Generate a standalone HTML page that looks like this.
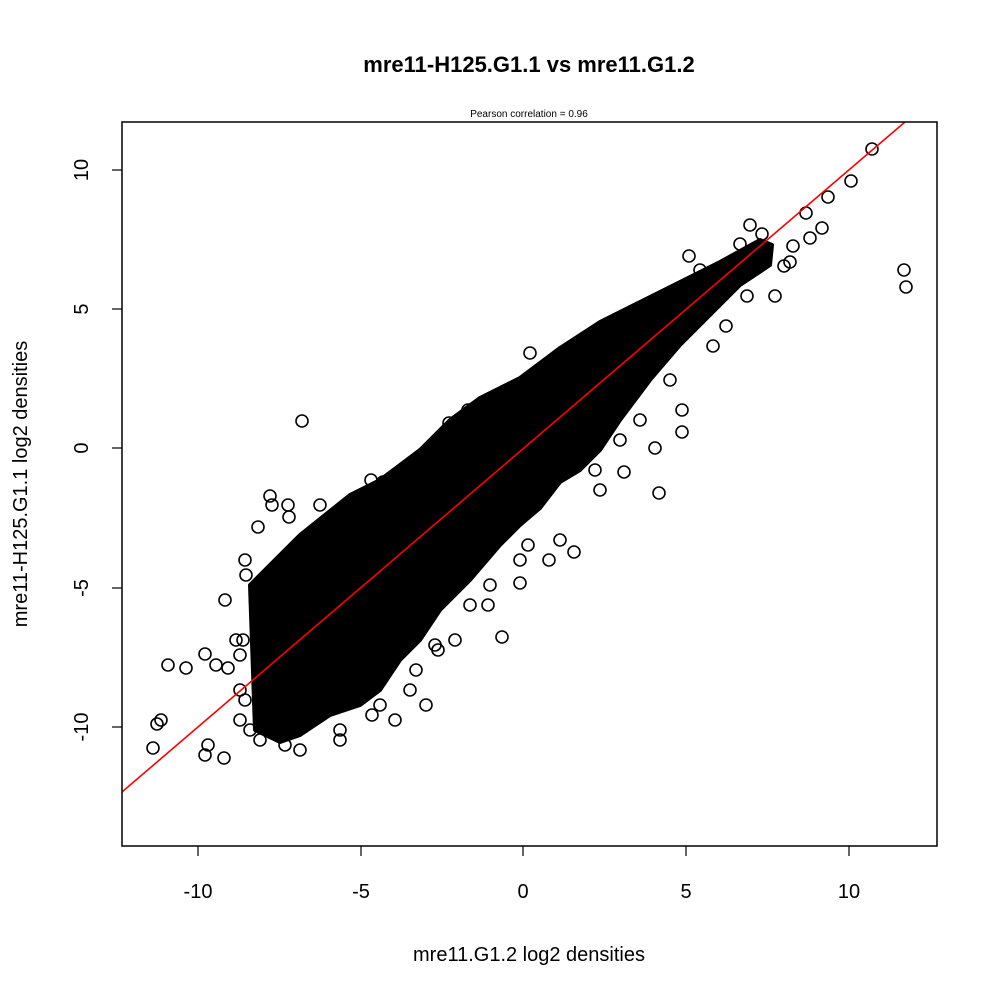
<!DOCTYPE html>
<html><head><style>body{margin:0;background:#fff}svg{display:block}</style></head><body>
<svg width="1000" height="1000" xmlns="http://www.w3.org/2000/svg" font-family="Liberation Sans, sans-serif">
<rect width="1000" height="1000" fill="#fff"/>
<text x="529" y="72" text-anchor="middle" font-size="22" font-weight="bold">mre11-H125.G1.1 vs mre11.G1.2</text>
<text x="529" y="117" text-anchor="middle" font-size="10">Pearson correlation =  0.96</text>
<defs><clipPath id="c"><rect x="122" y="122" width="815" height="724"/></clipPath></defs>
<g clip-path="url(#c)">
<polygon fill="#000" stroke="#000" stroke-width="4" stroke-linejoin="round" points="250,585 300,535 350,495 380,480 420,450 450,420 480,398 520,378 560,348 600,322 640,302 680,282 720,262 760,240 772,245 770,265 740,285 700,325 680,345 650,380 620,420 600,450 580,470 560,482 540,508 520,525 500,545 470,580 440,610 420,640 400,660 380,690 360,705 330,715 300,735 280,742 255,730"/>
<g fill="none" stroke="#000" stroke-width="1.6">
<circle cx="153" cy="748" r="6"/><circle cx="157" cy="724" r="6"/><circle cx="161" cy="720" r="6"/><circle cx="168" cy="665" r="6"/><circle cx="186" cy="668" r="6"/>
<circle cx="205" cy="654" r="6"/><circle cx="208" cy="745" r="6"/><circle cx="205" cy="755" r="6"/><circle cx="224" cy="758" r="6"/><circle cx="225" cy="600" r="6"/>
<circle cx="216" cy="665" r="6"/><circle cx="228" cy="668" r="6"/><circle cx="236" cy="640" r="6"/><circle cx="240" cy="720" r="6"/><circle cx="246" cy="575" r="6"/>
<circle cx="270" cy="496" r="6"/><circle cx="260" cy="740" r="6"/><circle cx="288" cy="730" r="6"/><circle cx="302" cy="421" r="6"/><circle cx="320" cy="505" r="6"/>
<circle cx="289" cy="517" r="6"/><circle cx="300" cy="750" r="6"/><circle cx="340" cy="740" r="6"/><circle cx="372" cy="715" r="6"/><circle cx="395" cy="720" r="6"/>
<circle cx="426" cy="705" r="6"/><circle cx="438" cy="650" r="6"/><circle cx="502" cy="637" r="6"/><circle cx="488" cy="605" r="6"/><circle cx="520" cy="583" r="6"/>
<circle cx="549" cy="560" r="6"/><circle cx="574" cy="552" r="6"/><circle cx="600" cy="490" r="6"/><circle cx="624" cy="472" r="6"/><circle cx="530" cy="353" r="6"/>
<circle cx="659" cy="493" r="6"/><circle cx="655" cy="448" r="6"/><circle cx="682" cy="432" r="6"/><circle cx="682" cy="410" r="6"/><circle cx="713" cy="346" r="6"/>
<circle cx="726" cy="326" r="6"/><circle cx="747" cy="296" r="6"/><circle cx="775" cy="296" r="6"/><circle cx="790" cy="262" r="6"/><circle cx="793" cy="246" r="6"/>
<circle cx="806" cy="213" r="6"/><circle cx="822" cy="228" r="6"/><circle cx="828" cy="197" r="6"/><circle cx="851" cy="181" r="6"/><circle cx="872" cy="149" r="6"/>
<circle cx="904" cy="270" r="6"/><circle cx="906" cy="287" r="6"/><circle cx="750" cy="225" r="6"/><circle cx="689" cy="256" r="6"/><circle cx="700" cy="270" r="6"/>
<circle cx="762" cy="234" r="6"/><circle cx="810" cy="238" r="6"/><circle cx="784" cy="266" r="6"/><circle cx="740" cy="244" r="6"/><circle cx="690" cy="300" r="6"/>
<circle cx="272" cy="505" r="6"/><circle cx="288" cy="505" r="6"/><circle cx="258" cy="527" r="6"/><circle cx="371" cy="480" r="6"/><circle cx="383" cy="482" r="6"/>
<circle cx="405" cy="478" r="6"/><circle cx="449" cy="423" r="6"/><circle cx="468" cy="410" r="6"/><circle cx="545" cy="405" r="6"/><circle cx="609" cy="354" r="6"/>
<circle cx="640" cy="330" r="6"/><circle cx="245" cy="560" r="6"/><circle cx="340" cy="730" r="6"/><circle cx="285" cy="745" r="6"/>
<circle cx="380" cy="705" r="6"/><circle cx="416" cy="670" r="6"/><circle cx="455" cy="640" r="6"/><circle cx="470" cy="605" r="6"/><circle cx="528" cy="545" r="6"/>
<circle cx="560" cy="540" r="6"/><circle cx="595" cy="470" r="6"/><circle cx="620" cy="440" r="6"/><circle cx="640" cy="420" r="6"/><circle cx="670" cy="380" r="6"/>
<circle cx="250" cy="730" r="6"/><circle cx="245" cy="700" r="6"/><circle cx="240" cy="655" r="6"/><circle cx="243" cy="640" r="6"/><circle cx="240" cy="690" r="6"/>
<circle cx="490" cy="585" r="6"/><circle cx="520" cy="560" r="6"/><circle cx="435" cy="645" r="6"/><circle cx="410" cy="690" r="6"/>
</g>
<line x1="122" y1="792" x2="905" y2="122" stroke="#f00" stroke-width="1.6"/>
</g>
<rect x="122" y="122" width="815" height="724" fill="none" stroke="#000" stroke-width="1.5"/>
<g stroke="#000" stroke-width="1.2">
<line x1="198" y1="846" x2="198" y2="856"/><line x1="361" y1="846" x2="361" y2="856"/><line x1="523" y1="846" x2="523" y2="856"/><line x1="686" y1="846" x2="686" y2="856"/><line x1="849" y1="846" x2="849" y2="856"/>
<line x1="112" y1="170" x2="122" y2="170"/><line x1="112" y1="309" x2="122" y2="309"/><line x1="112" y1="448" x2="122" y2="448"/><line x1="112" y1="588" x2="122" y2="588"/><line x1="112" y1="727" x2="122" y2="727"/>
</g>
<g font-size="20" text-anchor="middle">
<text x="198" y="898">-10</text><text x="361" y="898">-5</text><text x="523" y="898">0</text><text x="686" y="898">5</text><text x="849" y="898">10</text>
<text transform="translate(88,170) rotate(-90)">10</text><text transform="translate(88,309) rotate(-90)">5</text><text transform="translate(88,448) rotate(-90)">0</text><text transform="translate(88,588) rotate(-90)">-5</text><text transform="translate(88,727) rotate(-90)">-10</text>
<text x="529" y="961">mre11.G1.2 log2 densities</text>
<text transform="translate(27,484) rotate(-90)">mre11-H125.G1.1 log2 densities</text>
</g>
</svg>
</body></html>
